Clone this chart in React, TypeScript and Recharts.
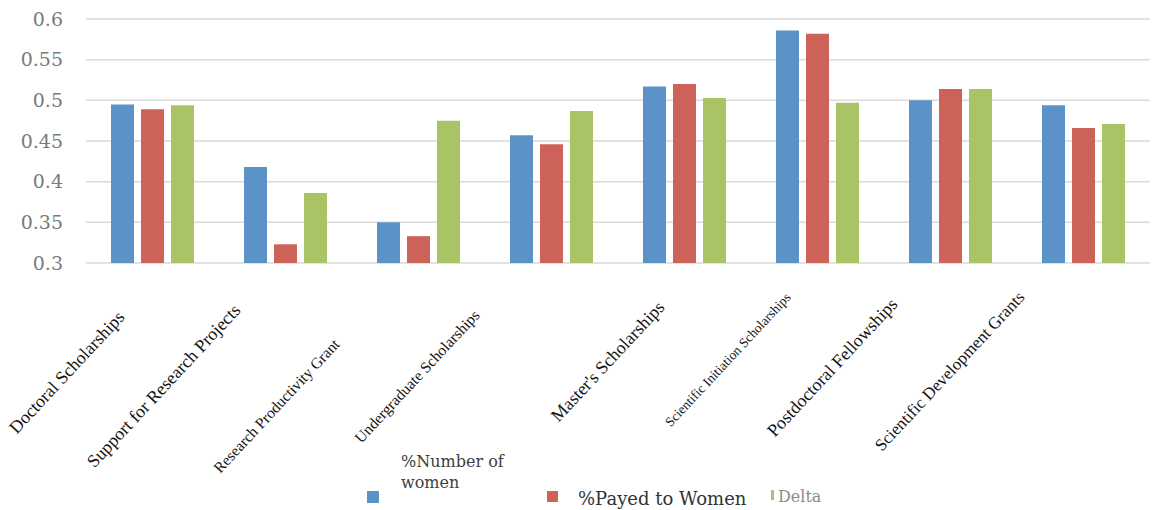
import React from 'react';
import { BarChart, Bar, XAxis, YAxis, CartesianGrid, Legend } from 'recharts';

const categories = [
  'Doctoral Scholarships',
  'Support for Research Projects',
  'Research Productivity Grant',
  'Undergraduate Scholarships',
  "Master's Scholarships",
  'Scientific Initiation Scholarships',
  'Postdoctoral Fellowships',
  'Scientific Development Grants',
];
const numberOfWomen = [0.495, 0.418, 0.35, 0.457, 0.517, 0.586, 0.5, 0.494];
const payedToWomen = [0.489, 0.323, 0.333, 0.446, 0.52, 0.582, 0.514, 0.466];
const delta = [0.494, 0.386, 0.475, 0.487, 0.503, 0.497, 0.514, 0.471];
const yTicks = [0.3, 0.35, 0.4, 0.45, 0.5, 0.55, 0.6];

const data = categories.map((name, i) => ({
  name,
  women: numberOfWomen[i],
  payed: payedToWomen[i],
  delta: delta[i],
}));

// the labels in the source are not all set the same way
const labelStyle = [
  { size: 18, dx: -27, dy: 47 },
  { size: 18, dx: -44, dy: 40 },
  { size: 15.5, dx: -78, dy: 74 },
  { size: 15.5, dx: -71, dy: 45 },
  { size: 18, dx: -19, dy: 37 },
  { size: 13.5, dx: -26, dy: 27 },
  { size: 18, dx: -52, dy: 34 },
  { size: 17, dx: -58, dy: 27 },
];

const CategoryTick = (props: any) => {
  const { x, y, payload, index } = props;
  const s = labelStyle[index] ?? { size: 16, dx: -45, dy: 40 };
  return (
    <g transform={`translate(${x + s.dx},${y + s.dy})`}>
      <text
        textAnchor="end"
        transform="rotate(-47)"
        fontSize={s.size}
        fontFamily="'Liberation Serif', serif"
        fill="#141414"
      >
        {payload.value}
      </text>
    </g>
  );
};

const legendItems = [
  { marker: { left: 367, top: 491, width: 12, height: 12 }, text: { left: 401, top: 451, width: 110, fontSize: 16, color: '#404040' } },
  { marker: { left: 547, top: 491, width: 11, height: 11 }, text: { left: 578, top: 490, width: 200, fontSize: 18, color: '#333333' } },
  { marker: { left: 771, top: 490, width: 2.5, height: 10 }, text: { left: 778, top: 489, width: 80, fontSize: 16, color: '#8c8c8c' } },
];

const ChartLegend = (props: any) => {
  const { payload = [] } = props;
  return (
    <div style={{ position: 'relative', width: 1156, height: 510, fontFamily: "'DejaVu Serif', serif" }}>
      {payload.map((entry: any, i: number) => {
        const l = legendItems[i];
        if (!l) return null;
        return (
          <React.Fragment key={entry.value}>
            <div style={{ position: 'absolute', ...l.marker, background: entry.color }} />
            <div
              style={{
                position: 'absolute',
                left: l.text.left,
                top: l.text.top,
                width: l.text.width,
                fontSize: l.text.fontSize,
                color: l.text.color,
                lineHeight: i === 0 ? '21px' : 1,
              }}
            >
              {entry.value}
            </div>
          </React.Fragment>
        );
      })}
    </div>
  );
};

export default function App() {
  return (
    <div style={{ position: 'absolute', left: 0, top: 0, width: 1156, height: 510, background: '#fff' }}>
      <BarChart
        width={1156}
        height={510}
        data={data}
        margin={{ top: 19, right: 6, left: 0, bottom: 0 }}
        barSize={23}
        barGap={7}
      >
        <CartesianGrid vertical={false} stroke="#d9d9d9" strokeWidth={1.5} />
        <XAxis
          dataKey="name"
          interval={0}
          tickLine={false}
          axisLine={false}
          height={247}
          tick={<CategoryTick />}
        />
        <YAxis
          domain={[0.3, 0.6]}
          ticks={yTicks}
          allowDataOverflow
          width={86}
          tickLine={false}
          axisLine={false}
          tickMargin={17}
          tick={{ fill: '#7a7a7a', fontSize: 19, fontFamily: "'DejaVu Serif', serif" }}
        />
        <Legend
          verticalAlign="middle"
          align="center"
          layout="horizontal"
          content={<ChartLegend />}
          wrapperStyle={{ left: 0, top: 0, width: 1156, height: 510, pointerEvents: 'none' }}
        />
        <Bar dataKey="women" name="%Number of women" fill="#5b93c9" isAnimationActive={false} />
        <Bar dataKey="payed" name="%Payed to Women" fill="#cd6259" isAnimationActive={false} />
        <Bar dataKey="delta" name="Delta" fill="#a8c464" isAnimationActive={false} />
      </BarChart>
    </div>
  );
}
